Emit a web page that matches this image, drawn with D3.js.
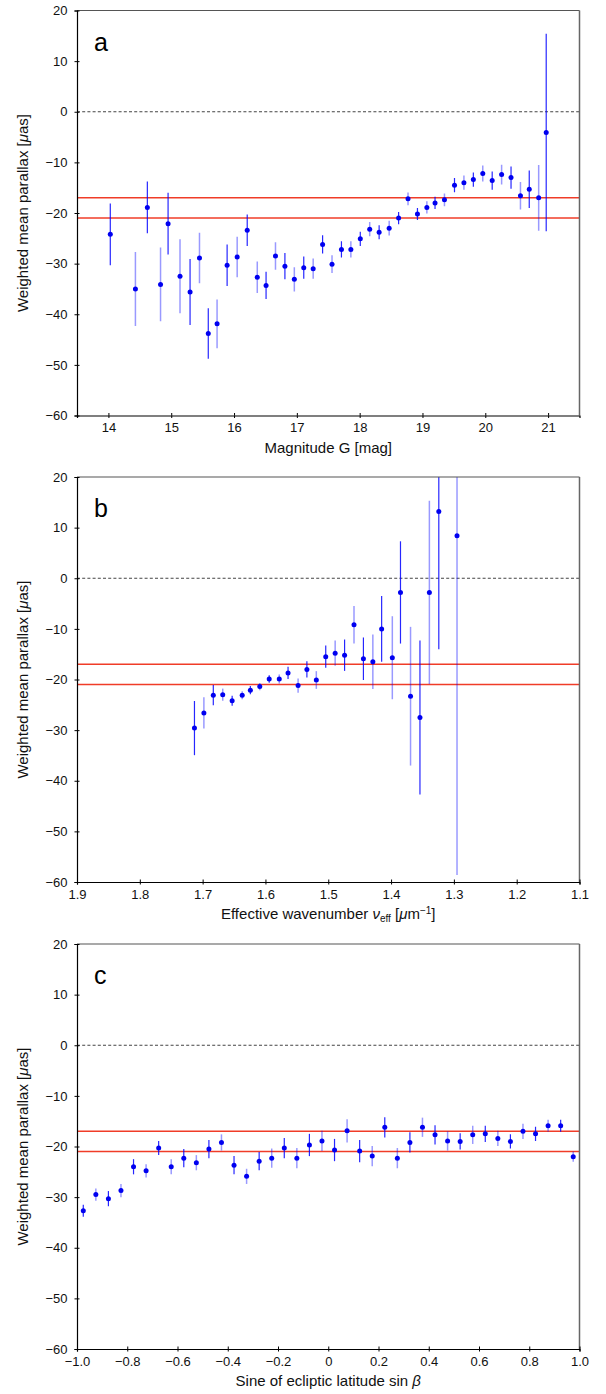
<!DOCTYPE html>
<html><head><meta charset="utf-8">
<script src="https://cdn.jsdelivr.net/npm/d3@7"></script>
<style>body{margin:0;background:#fff}</style>
</head><body>
<script>
// Panel a: magnitude G
const magG = [14.03,14.43,14.62,14.83,14.95,15.14,15.30,15.45,15.59,15.73,15.89,16.05,16.21,16.37,16.51,16.66,16.81,16.96,17.11,17.26,17.41,17.56,17.71,17.86,18.01,18.16,18.31,18.47,18.62,18.77,18.92,19.07,19.20,19.35,19.51,19.66,19.81,19.96,20.11,20.26,20.41,20.56,20.70,20.85,20.97];
const parA = [-24.2,-35.0,-18.9,-34.1,-22.1,-32.5,-35.6,-28.9,-43.8,-41.9,-30.3,-28.7,-23.4,-32.7,-34.3,-28.5,-30.5,-33.1,-30.8,-31.0,-26.2,-30.1,-27.2,-27.2,-25.1,-23.2,-23.8,-23.0,-21.0,-17.2,-20.2,-18.9,-18.0,-17.4,-14.5,-14.0,-13.4,-12.2,-13.6,-12.4,-13.0,-16.6,-15.3,-17.0,-4.1];
const errA = [6.1,7.3,5.1,7.3,6.1,7.3,6.5,5.0,5.0,4.8,4.1,4.0,3.1,3.1,2.7,2.7,2.6,2.4,2.2,2.0,1.8,1.75,1.6,1.6,1.4,1.4,1.4,1.45,1.2,1.25,1.2,1.2,1.2,1.25,1.4,1.4,1.4,1.6,1.8,1.95,2.2,2.7,3.7,6.5,19.5];

// Panel b: effective wavenumber
const nuEff = [1.713,1.698,1.683,1.668,1.653,1.637,1.624,1.609,1.594,1.578,1.564,1.548,1.534,1.519,1.504,1.489,1.474,1.459,1.444,1.429,1.415,1.398,1.385,1.369,1.354,1.339,1.324,1.295];
const parB = [-29.6,-26.6,-23.1,-23.0,-24.2,-23.1,-22.1,-21.4,-19.9,-19.9,-18.7,-21.2,-18.0,-20.1,-15.5,-14.8,-15.2,-9.2,-15.9,-16.5,-10.0,-15.7,-2.8,-23.3,-27.5,-2.8,13.2,8.4];
const errB = [5.35,3.1,2.0,1.2,1.0,0.8,0.8,0.7,0.75,0.9,1.2,1.4,1.6,1.75,2.2,2.5,3.1,3.7,4.2,5.4,6.5,8.2,10.1,13.7,15.2,18.1,27.2,67];

// Panel c: sine of ecliptic latitude
const sinBeta = [-0.975,-0.925,-0.875,-0.825,-0.775,-0.725,-0.675,-0.625,-0.575,-0.525,-0.475,-0.425,-0.375,-0.325,-0.275,-0.225,-0.175,-0.125,-0.075,-0.025,0.025,0.075,0.125,0.175,0.225,0.275,0.325,0.375,0.425,0.475,0.525,0.575,0.625,0.675,0.725,0.775,0.825,0.875,0.925,0.975];
const parC = [-32.7,-29.5,-30.3,-28.7,-24.0,-24.8,-20.3,-24.0,-22.3,-23.2,-20.5,-19.2,-23.7,-25.9,-22.9,-22.3,-20.3,-22.3,-19.7,-18.9,-20.7,-16.9,-20.9,-21.9,-16.2,-22.3,-19.2,-16.2,-17.7,-18.9,-19.0,-17.7,-17.5,-18.4,-19.0,-17.0,-17.5,-15.9,-15.9,-22.0];
const errC = [1.2,1.2,1.5,1.3,1.5,1.3,1.4,1.5,1.8,1.5,1.8,1.6,1.8,1.5,1.8,1.9,2.0,2.0,2.2,2.0,2.2,2.3,2.2,2.0,2.0,2.0,2.0,1.9,1.9,1.9,1.6,1.8,1.6,1.5,1.4,1.5,1.4,1.2,1.2,1.0];

const yTicks = [20,10,0,-10,-20,-30,-40,-50,-60];
const xTicksA = [14,15,16,17,18,19,20,21];
const xTicksB = [1.9,1.8,1.7,1.6,1.5,1.4,1.3,1.2,1.1];
const xTicksC = [-1,-0.8,-0.6,-0.4,-0.2,0,0.2,0.4,0.6,0.8,1];
const xLabelsC = ["−1.0","−0.8","−0.6","−0.4","−0.2","0","0.2","0.4","0.6","0.8","1.0"];
const refLines = [-17,-21];
const zeroLine = 0;
const panelLetters = ["a","b","c"];

const W = 606, H = 1394;
const L = 77, R = 579.5, PH = 405;
const tops = [10.5, 477, 944];
const FONT = '"Liberation Sans", Arial, sans-serif';

const svg = d3.select("body").append("svg")
  .attr("width", W).attr("height", H)
  .style("font-family", FONT);

const fmtInt = d => (d < 0 ? "−" : "") + Math.abs(d);

const panels = [
  { xs: magG, ys: parA, es: errA, dom: [13.5, 21.5], ticks: xTicksA, fmt: d => String(d) },
  { xs: nuEff, ys: parB, es: errB, dom: [1.9, 1.1], ticks: xTicksB, fmt: d => d.toFixed(1) },
  { xs: sinBeta, ys: parC, es: errC, dom: [-1, 1], ticks: xTicksC, fmt: (d, i) => xLabelsC[i] }
];

panels.forEach((p, k) => {
  const top = tops[k], bot = top + PH;
  const x = d3.scaleLinear().domain(p.dom).range([L, R]);
  const y = d3.scaleLinear().domain([-60, 20]).range([bot, top]);
  const g = svg.append("g");

  const clipId = "clip" + k;
  svg.append("clipPath").attr("id", clipId).append("rect")
    .attr("x", L).attr("y", top).attr("width", R - L).attr("height", PH);

  const gl = g.append("g").attr("clip-path", `url(#${clipId})`);
  gl.selectAll("line.ref").data(refLines).join("line")
    .attr("x1", L).attr("x2", R)
    .attr("y1", d => y(d)).attr("y2", d => y(d))
    .attr("stroke", "#f03c28").attr("stroke-width", 1.4);
  gl.append("line").attr("x1", L).attr("x2", R)
    .attr("y1", y(zeroLine)).attr("y2", y(zeroLine))
    .attr("stroke", "#444").attr("stroke-width", 1.1)
    .attr("stroke-dasharray", "3,2.2");

  const idx = d3.range(p.xs.length);
  gl.selectAll("line.err").data(idx).join("line")
    .attr("x1", i => x(p.xs[i])).attr("x2", i => x(p.xs[i]))
    .attr("y1", i => y(p.ys[i] - p.es[i])).attr("y2", i => y(p.ys[i] + p.es[i]))
    .attr("stroke", "#0000ff")
    .attr("stroke-width", i => i % 2 === 0 ? 1.2 : 1.5)
    .attr("stroke-opacity", i => i % 2 === 0 ? 0.85 : 0.4);
  gl.selectAll("circle").data(idx).join("circle")
    .attr("cx", i => x(p.xs[i])).attr("cy", i => y(p.ys[i]))
    .attr("r", 2.5).attr("fill", "#0000f0");

  g.append("line").attr("x1", L).attr("x2", R).attr("y1", top).attr("y2", top)
    .attr("stroke", "#555").attr("stroke-width", 1.2);
  g.append("line").attr("x1", R).attr("x2", R).attr("y1", top).attr("y2", bot)
    .attr("stroke", "#666").attr("stroke-width", 1.5);

  const yAx = d3.axisLeft(y).tickValues(yTicks).tickFormat(fmtInt).tickSize(2.5).tickPadding(7);
  const xAx = d3.axisBottom(x).tickValues(p.ticks).tickFormat(p.fmt).tickSize(2.5).tickPadding(5);
  const ga = g.append("g").attr("transform", `translate(${L},0)`).call(yAx);
  const gb = g.append("g").attr("transform", `translate(0,${bot})`).call(xAx);
  [ga, gb].forEach(a => {
    a.select(".domain").attr("stroke", "#000").attr("stroke-width", 1.2);
    a.selectAll(".tick line").attr("stroke", "#000").attr("stroke-width", 1);
    a.selectAll("text").attr("font-family", FONT).attr("font-size", 13).attr("fill", "#111");
  });
  ga.selectAll(".tick").append("line").attr("x1", 0).attr("x2", 2.5).attr("stroke", "#000");
  gb.selectAll(".tick").append("line").attr("y1", 0).attr("y2", -2.5).attr("stroke", "#000");

  g.append("text").attr("x", L + 17).attr("y", top + 40)
    .attr("font-size", 25).attr("fill", "#000").text(panelLetters[k]);

  const yl = g.append("text")
    .attr("transform", `translate(28,${top + PH / 2}) rotate(-90)`)
    .attr("text-anchor", "middle").attr("font-size", 15).attr("fill", "#111");
  yl.append("tspan").text("Weighted mean parallax [");
  yl.append("tspan").attr("font-style", "italic").text("μ");
  yl.append("tspan").text("as]");

  const xl = g.append("text").attr("x", (L + R) / 2).attr("y", bot + 37)
    .attr("text-anchor", "middle").attr("font-size", 15).attr("fill", "#111");
  if (k === 0) {
    xl.text("Magnitude G [mag]");
  } else if (k === 1) {
    xl.append("tspan").text("Effective wavenumber ");
    xl.append("tspan").attr("font-style", "italic").text("ν");
    xl.append("tspan").attr("font-size", 10).attr("dy", 3).text("eff");
    xl.append("tspan").attr("dy", -3).text(" [");
    xl.append("tspan").attr("font-style", "italic").text("μ");
    xl.append("tspan").text("m");
    xl.append("tspan").attr("font-size", 10).attr("dy", -5).text("−1");
    xl.append("tspan").attr("dy", 5).text("]");
  } else {
    xl.append("tspan").text("Sine of ecliptic latitude sin ");
    xl.append("tspan").attr("font-style", "italic").text("β");
  }
});
</script>
</body></html>
